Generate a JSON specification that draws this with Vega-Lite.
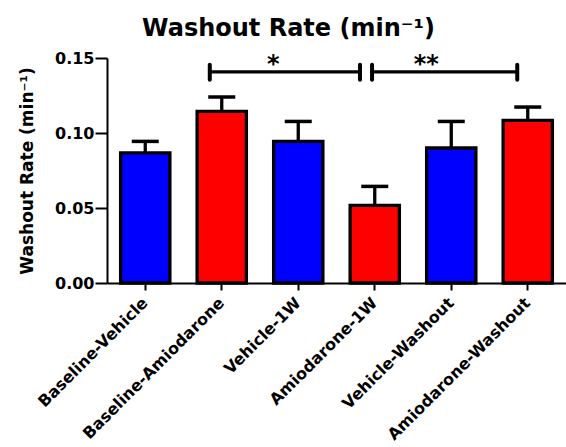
{
  "$schema": "https://vega.github.io/schema/vega-lite/v6.json",
  "width": 459,
  "height": 225,
  "autosize": {"type": "none"},
  "padding": {"left": 107, "top": 58, "right": 0, "bottom": 164},
  "background": "white",
  "config": {
    "view": {"stroke": null},
    "axis": {
      "domainColor": "black", "domainWidth": 2, "tickColor": "black", "tickWidth": 2,
      "labelColor": "black", "labelFont": "DejaVu Sans", "labelFontWeight": "bold",
      "labelFontSize": 16, "grid": false, "titleColor": "black"
    }
  },
  "title": {
    "text": "Washout Rate (min⁻¹)",
    "font": "DejaVu Sans", "fontSize": 24, "fontWeight": "bold", "color": "black",
    "anchor": "middle", "dx": -48, "offset": 9
  },
  "datasets": {
    "bars": [
      {"cat": "Baseline-Vehicle", "value": 0.0867, "upper": 0.0944, "group": "Vehicle"},
      {"cat": "Baseline-Amiodarone", "value": 0.1144, "upper": 0.124, "group": "Amiodarone"},
      {"cat": "Vehicle-1W", "value": 0.0944, "upper": 0.1077, "group": "Vehicle"},
      {"cat": "Amiodarone-1W", "value": 0.0518, "upper": 0.0644, "group": "Amiodarone"},
      {"cat": "Vehicle-Washout", "value": 0.090, "upper": 0.1077, "group": "Vehicle"},
      {"cat": "Amiodarone-Washout", "value": 0.1084, "upper": 0.1173, "group": "Amiodarone"}
    ],
    "brackets": [
      {"id": 1, "from": "Baseline-Amiodarone", "to": "Amiodarone-1W", "y": 0.1407, "ylo": 0.1355, "yhi": 0.1455},
      {"id": 2, "from": "Amiodarone-1W", "to": "Amiodarone-Washout", "y": 0.1407, "ylo": 0.1355, "yhi": 0.1455}
    ],
    "stars": [
      {"cat": "Vehicle-1W", "label": "*", "y": 0.1405},
      {"cat": "Vehicle-Washout", "label": "**", "y": 0.1405}
    ]
  },
  "layer": [
    {
      "data": {"name": "bars"},
      "mark": {"type": "bar", "stroke": "black", "strokeWidth": 3.3},
      "encoding": {
        "x": {
          "field": "cat", "type": "nominal", "sort": null,
          "scale": {
            "domain": ["Baseline-Vehicle", "Baseline-Amiodarone", "Vehicle-1W", "Amiodarone-1W", "Vehicle-Washout", "Amiodarone-Washout"],
            "paddingInner": 0.356, "paddingOuter": 0.178
          },
          "axis": {"title": null, "labelAngle": -45, "labelAlign": "right", "labelBaseline": "middle", "tickSize": 7, "labelPadding": 10, "labelLimit": 0, "labelFontSize": 16}
        },
        "y": {
          "field": "value", "type": "quantitative",
          "scale": {"domain": [0, 0.15], "nice": false},
          "axis": {
            "title": "Washout Rate (min⁻¹)", "titleFont": "DejaVu Sans", "titleFontSize": 17,
            "titleFontWeight": "bold", "titlePadding": 18,
            "values": [0, 0.05, 0.1, 0.15], "format": ".2f", "tickSize": 12, "labelPadding": 1
          }
        },
        "color": {
          "field": "group", "type": "nominal",
          "scale": {"domain": ["Vehicle", "Amiodarone"], "range": ["#0000FF", "#FF0000"]},
          "legend": null
        }
      }
    },
    {
      "data": {"name": "bars"},
      "mark": {"type": "rule", "strokeWidth": 3.3, "color": "black"},
      "encoding": {
        "x": {"field": "cat", "type": "nominal", "sort": null},
        "y": {"field": "value", "type": "quantitative"},
        "y2": {"field": "upper"}
      }
    },
    {
      "data": {"name": "bars"},
      "mark": {"type": "tick", "orient": "horizontal", "size": 27, "thickness": 3.5, "color": "black", "opacity": 1},
      "encoding": {
        "x": {"field": "cat", "type": "nominal", "sort": null},
        "y": {"field": "upper", "type": "quantitative"}
      }
    },
    {
      "data": {"name": "brackets"},
      "transform": [{"filter": "datum.id == 1"}],
      "mark": {"type": "rule", "strokeWidth": 3.3, "color": "black"},
      "encoding": {
        "x": {"field": "from", "type": "nominal", "bandPosition": 0.257},
        "x2": {"field": "to", "bandPosition": 0.2},
        "y": {"field": "y", "type": "quantitative"}
      }
    },
    {
      "data": {"name": "brackets"},
      "transform": [{"filter": "datum.id == 1"}],
      "mark": {"type": "rule", "strokeWidth": 4, "strokeCap": "round", "color": "black"},
      "encoding": {
        "x": {"field": "from", "type": "nominal", "bandPosition": 0.257},
        "y": {"field": "ylo", "type": "quantitative"},
        "y2": {"field": "yhi"}
      }
    },
    {
      "data": {"name": "brackets"},
      "transform": [{"filter": "datum.id == 1"}],
      "mark": {"type": "rule", "strokeWidth": 4, "strokeCap": "round", "color": "black"},
      "encoding": {
        "x": {"field": "to", "type": "nominal", "bandPosition": 0.2},
        "y": {"field": "ylo", "type": "quantitative"},
        "y2": {"field": "yhi"}
      }
    },
    {
      "data": {"name": "brackets"},
      "transform": [{"filter": "datum.id == 2"}],
      "mark": {"type": "rule", "strokeWidth": 3.3, "color": "black"},
      "encoding": {
        "x": {"field": "from", "type": "nominal", "bandPosition": 0.445},
        "x2": {"field": "to", "bandPosition": 0.287},
        "y": {"field": "y", "type": "quantitative"}
      }
    },
    {
      "data": {"name": "brackets"},
      "transform": [{"filter": "datum.id == 2"}],
      "mark": {"type": "rule", "strokeWidth": 4, "strokeCap": "round", "color": "black"},
      "encoding": {
        "x": {"field": "from", "type": "nominal", "bandPosition": 0.445},
        "y": {"field": "ylo", "type": "quantitative"},
        "y2": {"field": "yhi"}
      }
    },
    {
      "data": {"name": "brackets"},
      "transform": [{"filter": "datum.id == 2"}],
      "mark": {"type": "rule", "strokeWidth": 4, "strokeCap": "round", "color": "black"},
      "encoding": {
        "x": {"field": "to", "type": "nominal", "bandPosition": 0.287},
        "y": {"field": "ylo", "type": "quantitative"},
        "y2": {"field": "yhi"}
      }
    },
    {
      "data": {"name": "stars"},
      "mark": {"type": "text", "font": "DejaVu Sans", "fontSize": 24, "fontWeight": "bold", "color": "black", "align": "center", "baseline": "alphabetic", "dx": -25},
      "encoding": {
        "x": {"field": "cat", "type": "nominal"},
        "y": {"field": "y", "type": "quantitative"},
        "text": {"field": "label"}
      }
    }
  ]
}
